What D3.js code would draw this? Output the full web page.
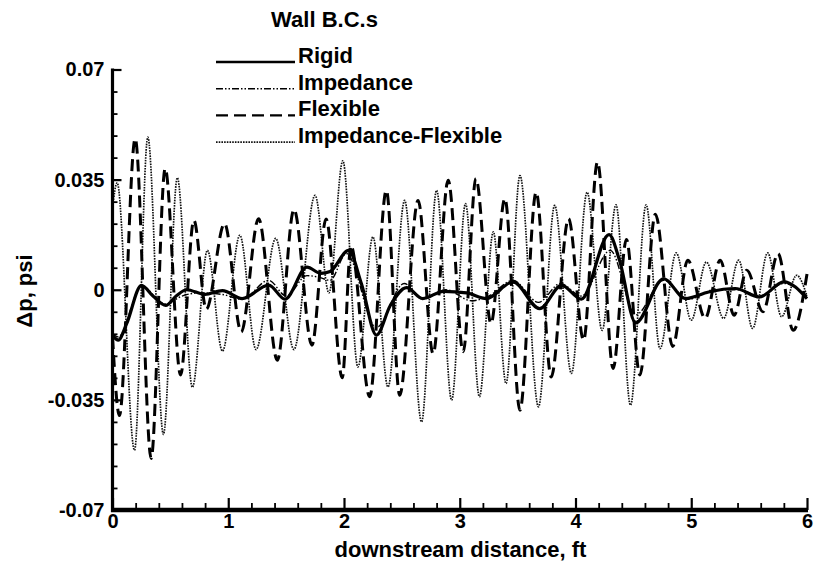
<!DOCTYPE html>
<html>
<head>
<meta charset="utf-8">
<script src="https://cdn.jsdelivr.net/npm/d3@7"></script>
<style>
  body { margin: 0; background: #fff; }
  svg text { font-family: "Liberation Sans", Arial, Helvetica, sans-serif; font-weight: bold; fill: #000; }
</style>
</head>
<body>
<svg id="chart" width="818" height="571"></svg>
<script>
// peaks / troughs, [distance ft, dp psi]
let rigid = [
  [0, -0.0145], [0.05, -0.016], [0.12, -0.011], [0.25, 0.0014], [0.35, -0.002], [0.46, -0.005],
  [0.55, -0.002], [0.64, 0.0], [0.80, -0.0015], [0.95, -0.0003], [1.12, -0.0028], [1.35, 0.0015],
  [1.49, -0.003], [1.68, 0.0072], [1.80, 0.0052], [1.88, 0.0058], [2.04, 0.0125], [2.15, 0.002],
  [2.28, -0.0144], [2.40, -0.005], [2.54, 0.0007], [2.68, -0.0028], [2.86, -0.0005], [3.06, -0.001],
  [3.23, -0.0028], [3.46, 0.0025], [3.69, -0.006], [3.88, 0.0014], [4.05, -0.003], [4.29, 0.0175],
  [4.38, 0.0094], [4.52, -0.0105], [4.76, 0.0035], [4.95, -0.0028], [5.15, -0.0007], [5.38, 0.0004],
  [5.59, -0.0023], [5.80, 0.0025], [6.0, -0.0028]
];

let impedance = [
  [0, -0.014], [0.05, -0.015], [0.25, 0.001], [0.46, -0.0045], [0.6, -0.002], [0.75, -0.001],
  [0.95, -0.0015], [1.12, -0.003], [1.35, 0.003], [1.50, -0.002], [1.68, 0.0045], [1.78, 0.004],
  [1.88, 0.003], [2.02, 0.0115], [2.28, -0.012], [2.52, 0.002], [2.68, -0.003], [2.88, 0.0],
  [3.1, -0.0035], [3.25, -0.002], [3.46, 0.003], [3.68, -0.004], [3.87, 0.002], [4.05, -0.002],
  [4.3, 0.0125], [4.52, -0.008], [4.76, 0.003], [4.98, -0.003], [5.2, 0.0], [5.4, 0.0],
  [5.6, -0.002], [5.8, 0.002], [6.0, -0.002]
];

let flexible = [
  [0, -0.015], [0.06, -0.040], [0.196, 0.048], [0.334, -0.0536], [0.455, 0.0385], [0.588, -0.0271],
  [0.703, 0.0221], [0.81, -0.0062], [0.968, 0.021], [1.112, -0.0134], [1.262, 0.0226], [1.424, -0.0224],
  [1.568, 0.0255], [1.723, -0.0176], [1.845, 0.0225], [1.985, -0.028], [2.06, 0.014], [2.222, -0.034],
  [2.366, 0.0316], [2.481, -0.0335], [2.64, 0.0284], [2.77, -0.0203], [2.90, 0.0348], [3.03, -0.0197],
  [3.14, 0.0353], [3.27, -0.0107], [3.39, 0.029], [3.52, -0.0383], [3.66, 0.031], [3.79, -0.0277],
  [3.94, 0.0226], [4.07, -0.016], [4.19, 0.0406], [4.325, -0.025], [4.44, 0.016], [4.556, -0.0271],
  [4.69, 0.024], [4.84, -0.018], [4.97, 0.0094], [5.12, -0.0091], [5.25, 0.0094], [5.37, -0.0081],
  [5.48, 0.0062], [5.62, -0.007], [5.75, 0.0115], [5.88, -0.0129], [6.0, 0.005]
];

let impFlex = [
  [0, 0.026], [0.04, 0.034], [0.19, -0.051], [0.305, 0.0485], [0.44, -0.046], [0.56, 0.0356],
  [0.69, -0.031], [0.82, 0.0125], [0.95, -0.0195], [1.10, 0.0173], [1.24, -0.019], [1.41, 0.0163],
  [1.567, -0.019], [1.75, 0.030], [1.87, -0.001], [1.99, 0.041], [2.12, -0.0245], [2.25, 0.0168],
  [2.38, -0.0309], [2.524, 0.0284], [2.67, -0.042], [2.80, 0.0316], [2.93, -0.0351], [3.05, 0.0274],
  [3.17, -0.034], [3.29, 0.0184], [3.40, -0.0298], [3.52, 0.0363], [3.68, -0.0372], [3.82, 0.0268],
  [3.965, -0.0266], [4.10, 0.031], [4.23, -0.0129], [4.35, 0.027], [4.475, -0.0367], [4.61, 0.027],
  [4.73, -0.0187], [4.87, 0.0117], [5.0, -0.0097], [5.13, 0.0088], [5.28, -0.0091], [5.41, 0.0094],
  [5.53, -0.0123], [5.66, 0.0117], [5.78, -0.0086], [5.91, 0.0046], [6.0, -0.002]
];

let seriesNames = ['Rigid', 'Impedance', 'Flexible', 'Impedance-Flexible'];
let xTicks = [0, 1, 2, 3, 4, 5, 6];
let yTicks = [-0.07, -0.035, 0, 0.035, 0.07];
let yTickLabels = ['-0.07', '-0.035', '0', '0.035', '0.07'];

let series = [
  {name: seriesNames[0], data: rigid, width: 3.2, dash: null, color: '#000'},
  {name: seriesNames[1], data: impedance, width: 1.4, dash: '7,2,1.5,2,1.5,2', color: '#000'},
  {name: seriesNames[2], data: flexible, width: 3, dash: '12,6', color: '#000'},
  {name: seriesNames[3], data: impFlex, width: 1.7, dash: '1.6,1.1', color: '#111'}
];

let svg = d3.select('#chart');

let x = d3.scaleLinear().domain([0, 6]).range([112.5, 807]);
let y = d3.scaleLinear().domain([-0.07, 0.07]).range([510, 69.5]);

let line = d3.line()
  .x(d => x(d[0]))
  .y(d => y(d[1]))
  .curve(d3.curveMonotoneX);

// curves, drawn back to front
svg.append('g')
  .selectAll('path')
  .data(series.slice().reverse())
  .enter()
  .append('path')
  .attr('d', d => line(d.data))
  .style('fill', 'none')
  .style('stroke', d => d.color)
  .style('stroke-width', d => d.width)
  .style('stroke-dasharray', d => d.dash)
  .style('stroke-linejoin', 'round');

// minor ticks
let xMinor = d3.range(0, 6.001, 0.2).filter(v => Math.abs(v - Math.round(v)) > 0.01);
let yMinor = d3.range(-0.07, 0.0701, 0.007).filter(v => yTicks.every(t => Math.abs(t - v) > 0.001));

svg.append('g')
  .attr('transform', 'translate(0,510)')
  .call(d3.axisBottom(x).tickValues(xMinor).tickSize(-7).tickSizeOuter(0).tickFormat(''))
  .call(g => g.select('.domain').remove())
  .selectAll('line').style('stroke-width', 1.8);

svg.append('g')
  .attr('transform', 'translate(112.5,0)')
  .call(d3.axisLeft(y).tickValues(yMinor).tickSize(-5).tickSizeOuter(0).tickFormat(''))
  .call(g => g.select('.domain').remove())
  .selectAll('line').style('stroke-width', 1.8);

// major ticks + labels
let xAxis = svg.append('g')
  .attr('transform', 'translate(0,510)')
  .call(d3.axisBottom(x).tickValues(xTicks).tickSize(-12).tickSizeOuter(0).tickPadding(4).tickFormat(d3.format('d')));
xAxis.select('.domain').remove();
xAxis.selectAll('line').style('stroke-width', 2.2);
xAxis.selectAll('text').style('font-size', '20px').style('font-family', null);

let yAxis = svg.append('g')
  .attr('transform', 'translate(112.5,0)')
  .call(d3.axisLeft(y).tickValues(yTicks).tickSize(-9).tickSizeOuter(0).tickPadding(8)
    .tickFormat((d, i) => yTickLabels[i]));
yAxis.select('.domain').remove();
yAxis.selectAll('line').style('stroke-width', 2.2);
yAxis.selectAll('text').style('font-size', '20px').style('font-family', null);

// axis frame lines (left and bottom only)
svg.append('line')
  .attr('x1', 112.5).attr('x2', 112.5).attr('y1', 68.5).attr('y2', 512)
  .style('stroke', '#000').style('stroke-width', 3.2);
svg.append('line')
  .attr('x1', 111).attr('x2', 808).attr('y1', 510).attr('y2', 510)
  .style('stroke', '#000').style('stroke-width', 4.5);

// axis titles
svg.append('text')
  .attr('x', 460.5).attr('y', 557)
  .attr('text-anchor', 'middle')
  .style('font-size', '22px')
  .text('downstream distance, ft');

svg.append('text')
  .attr('transform', 'translate(32,291) rotate(-90)')
  .attr('text-anchor', 'middle')
  .style('font-size', '22px')
  .text('\u0394p, psi');

// legend
svg.append('text')
  .attr('x', 324.5).attr('y', 27)
  .attr('text-anchor', 'middle')
  .style('font-size', '22px')
  .text('Wall B.C.s');

let legend = svg.append('g')
  .selectAll('g')
  .data(series)
  .enter()
  .append('g')
  .attr('transform', (d, i) => `translate(0,${63 + i * 26.7})`);

legend.append('line')
  .attr('x1', 216).attr('x2', 295)
  .attr('y1', -1).attr('y2', -1)
  .style('stroke', d => d.color)
  .style('stroke-width', d => Math.min(d.width, 2.4))
  .style('stroke-dasharray', d => d.dash);

legend.append('text')
  .attr('x', 298).attr('y', 0)
  .style('font-size', '22px')
  .text(d => d.name);
</script>
</body>
</html>
